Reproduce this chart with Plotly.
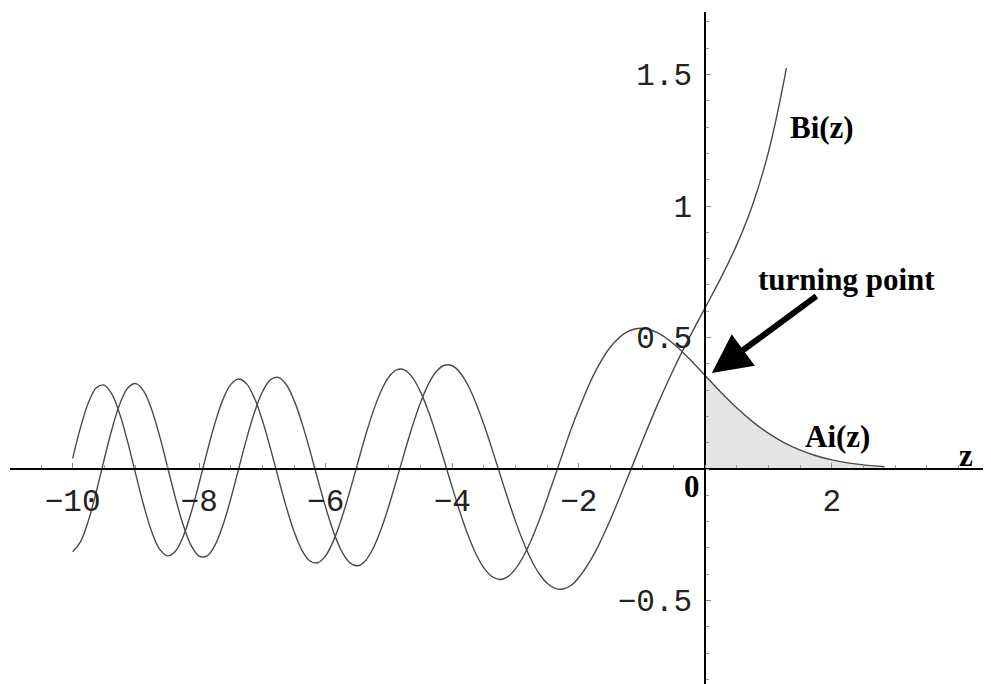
import plotly.graph_objects as go

# ---- data (Airy functions Ai(z), Bi(z)) ----
z_ai = [-10, -9.875, -9.75, -9.625, -9.5, -9.375, -9.25, -9.125, -9,
        -8.875, -8.75, -8.625, -8.5, -8.375, -8.25, -8.125, -8,
        -7.875, -7.75, -7.625, -7.5, -7.375, -7.25, -7.125, -7,
        -6.875, -6.75, -6.625, -6.5, -6.375, -6.25, -6.125, -6,
        -5.875, -5.75, -5.625, -5.5, -5.375, -5.25, -5.125, -5,
        -4.875, -4.75, -4.625, -4.5, -4.375, -4.25, -4.125, -4,
        -3.875, -3.75, -3.625, -3.5, -3.375, -3.25, -3.125, -3,
        -2.875, -2.75, -2.625, -2.5, -2.375, -2.25, -2.125, -2,
        -1.75, -1.5, -1.25, -1, -0.75, -0.5, -0.25, 0,
        0.25, 0.5, 0.75, 1.0, 1.25, 1.5, 1.75, 2.0, 2.25, 2.5, 2.83]
ai = [0.0402, 0.1585, 0.2526, 0.3088, 0.3191, 0.2827, 0.2053, 0.0985, -0.0221,
      -0.1398, -0.2383, -0.3046, -0.3303, -0.3127, -0.2546, -0.1640, -0.0527,
      0.0651, 0.1750, 0.2640, 0.3218, 0.3424, 0.3238, 0.2689, 0.1843,
      0.0797, -0.0334, -0.1431, -0.2381, -0.3092, -0.3497, -0.3564, -0.3293,
      -0.2715, -0.1889, -0.0895, 0.0178, 0.1236, 0.2192, 0.2968, 0.3510,
      0.3779, 0.3762, 0.3467, 0.2924, 0.2175, 0.1279, 0.0297, -0.0704,
      -0.1662, -0.2521, -0.3232, -0.3762, -0.4088, -0.4199, -0.4098, -0.3797,
      -0.3318, -0.2690, -0.1947, -0.1122, -0.0252, 0.0629, 0.1491, 0.2274,
      0.3655, 0.4643, 0.5200, 0.5356, 0.5178, 0.4757, 0.4187, 0.3550,
      0.2912, 0.2317, 0.1795, 0.1353, 0.0996, 0.0717, 0.0505, 0.0349, 0.0236,
      0.0157, 0.0088]

z_bi = [-10, -9.875, -9.75, -9.625, -9.5, -9.375, -9.25, -9.125, -9,
        -8.875, -8.75, -8.625, -8.5, -8.375, -8.25, -8.125, -8,
        -7.875, -7.75, -7.625, -7.5, -7.375, -7.25, -7.125, -7,
        -6.875, -6.75, -6.625, -6.5, -6.375, -6.25, -6.125, -6,
        -5.875, -5.75, -5.625, -5.5, -5.375, -5.25, -5.125, -5,
        -4.875, -4.75, -4.625, -4.5, -4.375, -4.25, -4.125, -4,
        -3.875, -3.75, -3.625, -3.5, -3.375, -3.25, -3.125, -3,
        -2.875, -2.75, -2.625, -2.5, -2.375, -2.25, -2.125, -2,
        -1.75, -1.5, -1.25, -1, -0.75, -0.5, -0.25, 0,
        0.25, 0.5, 0.75, 1.0, 1.25, 1.28]
bi = [-0.3147, -0.2760, -0.1953, -0.0851, 0.0378, 0.1551, 0.2501, 0.3093, 0.3250,
      0.2955, 0.2255, 0.1250, 0.0078, -0.1105, -0.2145, -0.2912, -0.3313,
      -0.3304, -0.2893, -0.2135, -0.1125, 0.0016, 0.1156, 0.2167, 0.2938,
      0.3392, 0.3484, 0.3213, 0.2611, 0.1746, 0.0708, -0.0398, -0.1468,
      -0.2401, -0.3116, -0.3553, -0.3680, -0.3493, -0.3015, -0.2292, -0.1384,
      -0.0370, 0.0673, 0.1667, 0.2541, 0.3238, 0.3716, 0.3948, 0.3927,
      0.3662, 0.3176, 0.2505, 0.1691, 0.0785, -0.0163, -0.1103, -0.1991,
      -0.2786, -0.3458, -0.3982, -0.4344, -0.4538, -0.4563, -0.4429, -0.4123,
      -0.3195, -0.1918, -0.0459, 0.1040, 0.2478, 0.3804, 0.5014, 0.6149,
      0.7288, 0.8543, 1.0069, 1.2074, 1.4844, 1.525]

x_tickvals = [-10, -8, -6, -4, -2, 2]
x_ticktext = ["\u221210", "\u22128", "\u22126", "\u22124", "\u22122", "2"]
y_tickvals = [-0.5, 0.5, 1, 1.5]
y_ticktext = ["\u22120.5", "0.5", "1", "1.5"]

X_RANGE = [-10.99, 4.42]
Y_RANGE = [-0.8175, 1.738]

shade_z = [z for z in z_ai if z >= 0]
shade_y = [v for z, v in zip(z_ai, ai) if z >= 0]

CURVE = "#4a4a4a"
fig = go.Figure()
fig.add_trace(go.Scatter(x=shade_z, y=shade_y, mode="lines", fill="tozeroy",
                         fillcolor="#e4e4e4",
                         line=dict(width=0, shape="spline"),
                         hoverinfo="skip", showlegend=False))
fig.add_trace(go.Scatter(x=z_ai, y=ai, mode="lines",
                         line=dict(color=CURVE, width=1.4, shape="spline"),
                         showlegend=False))
fig.add_trace(go.Scatter(x=z_bi, y=bi, mode="lines",
                         line=dict(color=CURVE, width=1.4, shape="spline"),
                         showlegend=False))

tickfont = dict(family="Liberation Mono", size=31, color="#222")
xpos = (0 - Y_RANGE[0]) / (Y_RANGE[1] - Y_RANGE[0])
ypos = (0 - X_RANGE[0]) / (X_RANGE[1] - X_RANGE[0])

# page body has an 8px default margin, so margins compensate for it
fig.update_layout(
    width=991, height=684,
    margin=dict(l=2, r=14, t=4, b=8, autoexpand=False),
    paper_bgcolor="white", plot_bgcolor="white",
    showlegend=False,
    xaxis=dict(range=X_RANGE, anchor="free", position=xpos, automargin=False,
               showline=True, linecolor="black", linewidth=2,
               showgrid=False, zeroline=False,
               tickmode="array", tickvals=x_tickvals, ticktext=x_ticktext,
               ticks="inside", ticklen=5, tickwidth=1, tickcolor="#888",
               tickfont=tickfont, ticklabelstandoff=4,
               minor=dict(tickmode="linear", tick0=0, dtick=0.5, ticks="inside",
                          ticklen=3, tickwidth=1, tickcolor="#999")),
    yaxis=dict(range=Y_RANGE, anchor="free", position=ypos, automargin=False,
               showline=True, linecolor="black", linewidth=2,
               showgrid=False, zeroline=False,
               tickmode="array", tickvals=y_tickvals, ticktext=y_ticktext,
               ticks="inside", ticklen=5, tickwidth=1, tickcolor="#888",
               tickfont=tickfont, ticklabelstandoff=6,
               minor=dict(tickmode="linear", tick0=0, dtick=0.1, ticks="inside",
                          ticklen=3, tickwidth=1, tickcolor="#999")),
)

lab = dict(family="Liberation Serif", size=31, color="black", weight="bold")
fig.add_annotation(x=2.235, y=0.722, text="turning point", showarrow=False, font=lab)
fig.add_annotation(x=1.84, y=1.30, text="Bi(z)", showarrow=False, font=lab)
fig.add_annotation(x=2.09, y=0.125, text="Ai(z)", showarrow=False, font=lab)
fig.add_annotation(x=4.115, y=0.05, text="z", showarrow=False, font=lab)
fig.add_annotation(x=-0.213, y=-0.068, text="0", showarrow=False, font=lab)
fig.add_annotation(x=0.103, y=0.365, text="", showarrow=True, ax=106, ay=-78,
                   arrowhead=2, arrowsize=1.3, arrowwidth=6, arrowcolor="black",
                   standoff=0)

fig.write_html("out.html")
